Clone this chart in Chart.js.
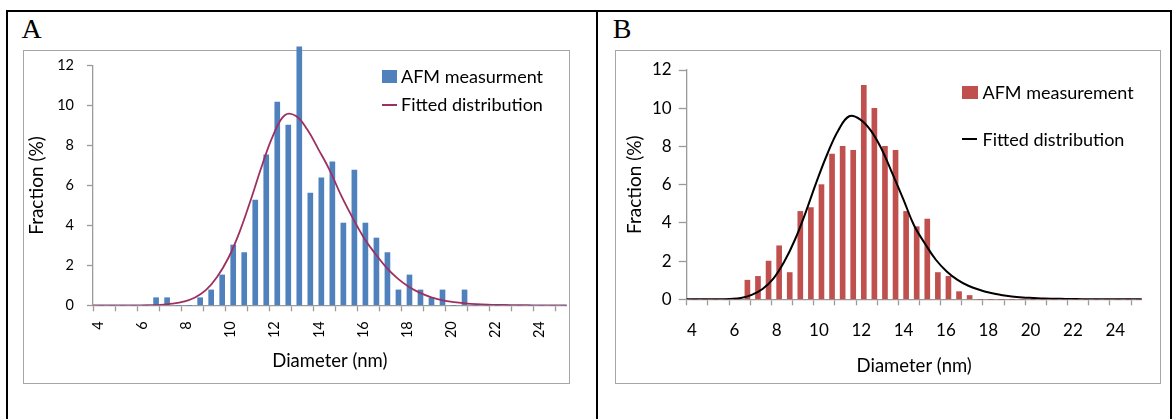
<!DOCTYPE html>
<html lang="en">
<head>
    <meta charset="UTF-8">
    <title>AFM diameter distributions</title>
    <script src="https://cdn.jsdelivr.net/npm/chart.js@4.4.1/dist/chart.umd.min.js"></script>
    <style>
        * {
            margin: 0;
            padding: 0;
            box-sizing: border-box;
        }

        body {
            background: #fff;
            width: 1174px;
            height: 419px;
            position: relative;
            overflow: hidden;
            font-family: Lato, 'Noto Sans', sans-serif;
            color: #000;
        }

        .rule {
            position: absolute;
            background: #000;
        }

        .box {
            position: absolute;
            border: 1.5px solid #a6a6a6;
        }

        .letter {
            position: absolute;
            top: 15px;
            font-family: 'Liberation Serif', 'DejaVu Serif', serif;
            font-size: 28px;
            line-height: 28px;
        }

        canvas {
            position: absolute;
            top: 0;
        }

        .swatch {
            position: absolute;
        }

        .legend-text {
            position: absolute;
            font-size: 18px;
            line-height: 22px;
            white-space: nowrap;
        }
    </style>
</head>
<body>
    <!-- table frame -->
    <div class="rule" style="left:6px; top:9.5px; width:1166px; height:2px;"></div>
    <div class="rule" style="left:6px; top:9.5px; width:2px; height:410px;"></div>
    <div class="rule" style="left:596px; top:9.5px; width:2px; height:410px;"></div>
    <div class="rule" style="left:1170px; top:9.5px; width:2px; height:410px;"></div>

    <div class="letter" style="left:21.5px;">A</div>
    <div class="letter" style="left:612.7px;">B</div>

    <div class="box" style="left:23px; top:50px; width:547px; height:334px;"></div>
    <div class="box" style="left:615px; top:50px; width:546px; height:334px;"></div>

    <canvas id="chartA" width="597" height="419" style="left:0;"></canvas>
    <canvas id="chartB" width="575" height="419" style="left:599px;"></canvas>

    <!-- legends -->
    <div class="swatch" style="left:382px; top:70px; width:15px; height:13px; background:#4F81BD;"></div>
    <div class="legend-text" style="left:401px; top:65px;">AFM measurment</div>
    <div class="swatch" style="left:381.5px; top:104px; width:15px; height:2px; background:#9E3060;"></div>
    <div class="legend-text" style="left:401px; top:93.3px;">Fitted distribution</div>

    <div class="swatch" style="left:962px; top:86px; width:16px; height:13px; background:#C0504D;"></div>
    <div class="legend-text" style="left:982.5px; top:80.5px;">AFM measurement</div>
    <div class="swatch" style="left:962px; top:138px; width:15px; height:2px; background:#000;"></div>
    <div class="legend-text" style="left:982.5px; top:127.5px;">Fitted distribution</div>

    <script>
        // Diameter bins (nm)
        const diameters = [4, 4.5, 5, 5.5, 6, 6.5, 7, 7.5, 8, 8.5, 9, 9.5, 10, 10.5, 11, 11.5,
            12, 12.5, 13, 13.5, 14, 14.5, 15, 15.5, 16, 16.5, 17, 17.5, 18, 18.5, 19, 19.5,
            20, 20.5, 21, 21.5, 22, 22.5, 23, 23.5, 24, 24.5, 25];
        const xTickLabels = [4, 6, 8, 10, 12, 14, 16, 18, 20, 22, 24];
        const yTicks = [0, 2, 4, 6, 8, 10, 12];

        // Panel A
        const afmA = [0, 0, 0, 0, 0, 0.38, 0.38, 0, 0, 0.38, 0.77, 1.52, 3.02, 2.64, 5.27, 7.53,
            10.18, 9.03, 12.95, 5.62, 6.39, 7.18, 4.12, 6.77, 4.12, 3.37, 2.64, 0.77, 1.52, 0.77, 0.38, 0.77,
            0, 0.77, 0, 0, 0, 0, 0, 0, 0, 0, 0];
        const fitA = [0, 0, 0, 0, 0, 0.005, 0.02, 0.08, 0.18, 0.38, 0.76, 1.42, 2.37, 3.68, 5.3, 7.03,
            8.55, 9.52, 9.48, 8.8, 7.8, 6.75, 5.5, 4.4, 3.4, 2.6, 1.9, 1.35, 0.93, 0.62, 0.4, 0.25,
            0.16, 0.1, 0.06, 0.035, 0.02, 0.01, 0.005, 0, 0, 0, 0];

        // Panel B
        const afmB = [0, 0, 0, 0, 0, 1.0, 1.2, 2.0, 2.8, 1.4, 4.6, 4.8, 6.0, 7.6, 8.0, 7.8,
            11.2, 10.0, 8.0, 7.8, 4.6, 3.8, 4.2, 1.4, 1.2, 0.4, 0.2, 0, 0, 0, 0, 0,
            0, 0, 0, 0, 0, 0, 0, 0, 0, 0, 0];
        const fitB = [0, 0, 0, 0, 0.02, 0.07, 0.23, 0.54, 1.08, 1.96, 3.13, 4.58, 6.17, 7.63, 8.85, 9.58,
            9.42, 8.83, 7.85, 6.56, 5.23, 3.85, 2.91, 2.07, 1.46, 1.02, 0.71, 0.5, 0.34, 0.23, 0.15, 0.1,
            0.07, 0.04, 0.03, 0.02, 0.01, 0.005, 0, 0, 0, 0, 0];

        const axisGray = '#9a9a9a';

        function makeChart(id, p) {
            return new Chart(document.getElementById(id), {
                data: {
                    labels: diameters,
                    datasets: [
                        {
                            type: 'line',
                            data: p.fit,
                            xAxisID: 'x2',
                            borderColor: p.lineColor,
                            borderWidth: p.lineWidth,
                            pointRadius: 0,
                            tension: 0.4,
                            fill: false,
                            order: 0
                        },
                        {
                            type: 'bar',
                            data: p.bars,
                            xAxisID: 'x',
                            backgroundColor: p.barColor,
                            barThickness: p.barWidth,
                            clip: false,
                            order: 1
                        }
                    ]
                },
                options: {
                    responsive: false,
                    animation: false,
                    events: [],
                    layout: { padding: p.padding },
                    plugins: { legend: { display: false }, tooltip: { enabled: false } },
                    scales: {
                        x: {
                            type: 'category',
                            offset: true,
                            grid: {
                                display: true,
                                offset: true,
                                drawOnChartArea: false,
                                tickLength: 6,
                                tickWidth: 1.3,
                                tickColor: ctx => (ctx.type === 'tick' && ctx.index % 2 === 0) ? axisGray : 'rgba(0,0,0,0)'
                            },
                            border: { display: true, color: axisGray, width: 1.3 },
                            ticks: {
                                autoSkip: false,
                                minRotation: p.rotation,
                                maxRotation: p.rotation,
                                padding: p.xTickPad,
                                color: '#000',
                                font: { family: 'Lato', size: p.tickSize },
                                callback: (v, i) => xTickLabels.includes(diameters[i]) ? String(diameters[i]) : ''
                            },
                            title: {
                                display: true,
                                text: 'Diameter (nm)',
                                color: '#000',
                                padding: 0,
                                font: { family: 'Lato', size: 18.5, lineHeight: 1.2 }
                            },
                            afterFit: s => { s.height = p.xHeight; }
                        },
                        x2: {
                            type: 'category',
                            offset: false,
                            display: false
                        },
                        y: {
                            min: 0,
                            max: 12,
                            afterBuildTicks: s => { s.ticks = yTicks.map(v => ({ value: v })); },
                            grid: {
                                display: true,
                                drawOnChartArea: false,
                                tickLength: p.yTickLen,
                                tickWidth: 1.3,
                                tickColor: axisGray
                            },
                            border: { display: true, color: axisGray, width: 1.3 },
                            ticks: {
                                padding: p.yTickPad,
                                color: '#000',
                                font: { family: 'Lato', size: p.tickSize }
                            },
                            title: {
                                display: true,
                                text: 'Fraction (%)',
                                color: '#000',
                                padding: 0,
                                font: { family: 'Lato', size: 19, lineHeight: 1.2 }
                            },
                            afterFit: s => { s.width = p.yWidth; }
                        }
                    }
                }
            });
        }

        makeChart('chartA', {
            bars: afmA, fit: fitA,
            barColor: '#4F81BD', lineColor: '#9E3060', lineWidth: 1.8, barWidth: 5,
            padding: { left: 25.6, top: 65.7, right: 30.3, bottom: 46.9 },
            yWidth: 67.4, xHeight: 66.8,
            rotation: 90, tickSize: 14.5,
            xTickPad: 10, yTickPad: 13, yTickLen: 6
        });

        makeChart('chartB', {
            bars: afmB, fit: fitB,
            barColor: '#C0504D', lineColor: '#000', lineWidth: 2, barWidth: 5,
            padding: { left: 24.6, top: 70, right: 32.3, bottom: 41.9 },
            yWidth: 63.1, xHeight: 77.8,
            rotation: 0, tickSize: 17,
            xTickPad: 15, yTickPad: 7, yTickLen: 8
        });
    </script>
</body>
</html>
